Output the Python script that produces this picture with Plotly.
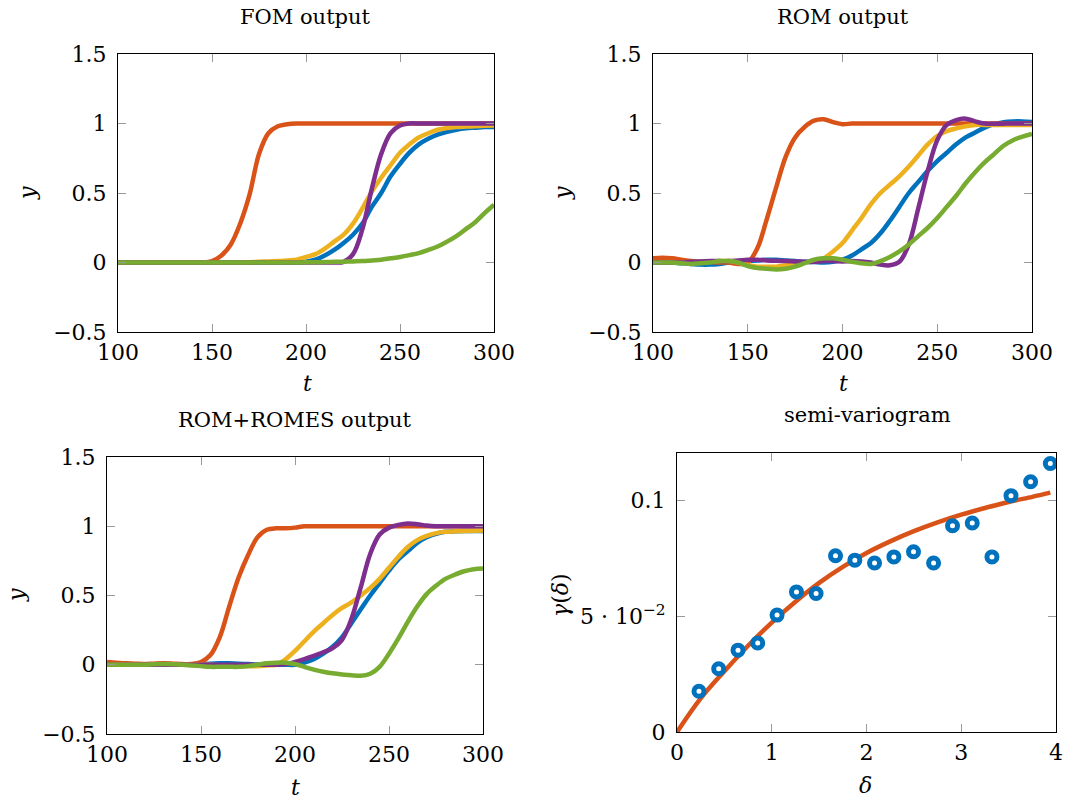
import plotly.graph_objects as go

W, H = 1076, 800

# ---------------- data ----------------
t = list(range(100, 305, 5))  # 100..300 step 5 (41 points)

# FOM output
fom_blue = [0,0,0,0,0,0,0,0,0,0,0,0,0,0,0,0,0,0,0,0,
            0.005,0.02,0.05,0.09,0.14,0.2,0.28,0.4,0.5,0.62,0.71,0.79,0.85,0.89,0.92,0.94,0.955,0.965,0.97,0.975,0.975]
fom_orange = [0,0,0,0,0,0,0,0,0,0,0.01,0.05,0.13,0.28,0.49,0.78,0.93,0.98,0.995,1.0,
              1,1,1,1,1,1,1,1,1,1,1,1,1,1,1,1,1,1,1,1,1]
fom_yellow = [0,0,0,0,0,0,0,0,0,0,0,0,0,0,0.002,0.005,0.008,0.01,0.015,0.02,
              0.04,0.06,0.1,0.15,0.2,0.28,0.39,0.51,0.61,0.7,0.79,0.85,0.9,0.93,0.955,0.968,0.975,0.978,0.98,0.983,0.985]
fom_purple = [0,0,0,0,0,0,0,0,0,0,0,0,0,0,0,0,0,0,0,0,
              0,0,0,0.0,0.005,0.06,0.24,0.53,0.78,0.93,0.985,1.0,1.0,1.0,1.0,1.0,1.0,1.0,1.0,1.0,1.0]
fom_green = [0,0,0,0,0,0,0,0,0,0,0,0,0,0,0,0,0,0,0,0,
             0.001,0.002,0.003,0.005,0.006,0.008,0.01,0.015,0.02,0.03,0.04,0.053,0.068,0.09,0.115,0.15,0.19,0.24,0.29,0.355,0.415]

# ROM output
rom_blue = [0.0,0.0,0.0,-0.005,-0.01,-0.015,-0.015,-0.01,0.0,0.005,0.01,0.015,0.02,0.02,0.015,0.01,0.005,0.003,0.0,0.005,
            0.02,0.05,0.095,0.14,0.21,0.3,0.4,0.5,0.58,0.66,0.73,0.79,0.85,0.9,0.935,0.97,0.995,1.01,1.015,1.015,1.01]
rom_orange = [0.03,0.035,0.03,0.02,0.01,0.005,0.005,0.0,0.0,-0.01,0.0,0.1,0.31,0.54,0.76,0.9,0.975,1.02,1.03,1.01,
              0.995,1.0,1.0,1,1,1,1,1,1,1,1,1,1,1,1,1,1,1,1,1,1]
rom_yellow = [0.0,0.0,0.0,0.0,0.0,0.0,0.005,0.01,0.01,0.0,-0.02,-0.03,-0.03,-0.03,-0.02,-0.01,0.0,0.01,0.03,0.08,
              0.14,0.23,0.32,0.42,0.5,0.56,0.62,0.69,0.77,0.85,0.91,0.945,0.965,0.98,0.99,0.99,0.99,0.99,0.99,0.99,0.99]
rom_purple = [0.0,0.0,0.0,0.0,0.005,0.008,0.01,0.01,0.01,0.015,0.02,0.02,0.015,0.012,0.01,0.008,0.005,0.005,0.01,0.01,
              0.008,0.01,0.008,0.0,-0.015,-0.02,0.005,0.13,0.39,0.66,0.88,0.99,1.025,1.035,1.015,1.0,0.998,0.999,1.0,1.0,1.0]
rom_green = [0.0,0.0,0.0,-0.005,-0.01,-0.005,0.0,0.01,0.01,0.0,-0.025,-0.04,-0.045,-0.05,-0.045,-0.03,-0.005,0.02,0.03,0.03,
             0.02,0.005,-0.005,-0.01,0.01,0.04,0.08,0.13,0.19,0.25,0.32,0.4,0.48,0.57,0.65,0.72,0.78,0.84,0.88,0.905,0.925]

# ROM+ROMES output
romes_blue = [0.0,0.0,0.0,0.0,0.0,0.0,0.0,0.0,0.0,0.0,0.005,0.008,0.01,0.01,0.008,0.005,0.0,0.0,0.0,0.0,
              0.0,0.015,0.04,0.08,0.13,0.2,0.3,0.4,0.5,0.59,0.68,0.76,0.82,0.88,0.92,0.945,0.96,0.963,0.965,0.965,0.965]
romes_orange = [0.02,0.015,0.01,0.008,0.005,0.008,0.01,0.008,0.005,0.005,0.02,0.07,0.2,0.42,0.63,0.79,0.92,0.975,0.985,0.985,
                0.99,1.0,1.0,1,1,1,1,1,1,1,1,1,1,1,1,1,1,1,1,1,1]
romes_yellow = [0.0,0.0,0.0,0.0,0.0,0.0,0.0,0.0,0.0,0.0,0.0,0.0,-0.005,-0.01,-0.01,-0.01,-0.01,-0.005,0.0,0.04,
                0.1,0.17,0.24,0.3,0.36,0.41,0.45,0.5,0.555,0.62,0.7,0.78,0.85,0.9,0.93,0.95,0.96,0.963,0.965,0.968,0.97]
romes_purple = [0.0,0.0,0.0,0.0,0.0,0.0,0.0,0.0,0.0,0.0,0.0,0.0,0.0,0.0,0.0,0.0,0.0,0.0,0.0,0.005,
                0.02,0.04,0.065,0.09,0.12,0.18,0.33,0.56,0.8,0.94,0.99,1.01,1.02,1.015,1.005,1.0,1.0,1.0,1.0,1.0,1.0]
romes_green = [0.0,0.0,0.0,0.0,0.0,0.003,0.005,0.003,0.0,-0.005,-0.01,-0.015,-0.015,-0.015,-0.015,-0.01,0.0,0.01,0.015,0.015,
               0.005,-0.015,-0.035,-0.05,-0.062,-0.07,-0.075,-0.08,-0.065,-0.015,0.08,0.19,0.31,0.42,0.51,0.57,0.62,0.65,0.675,0.69,0.695]

# semi-variogram
delta_pts = [0.232,0.44,0.644,0.852,1.056,1.261,1.468,1.673,1.877,2.085,2.289,2.496,2.708,2.908,3.116,3.324,3.525,3.732,3.94]
gamma_pts = [0.0176,0.0273,0.0353,0.0384,0.0504,0.0604,0.0597,0.0760,0.0741,0.0729,0.0755,0.0777,0.0729,0.0889,0.0901,0.0755,0.1019,0.1079,0.1158]
delta_fit = [0.0,0.25,0.5,0.75,1.0,1.25,1.5,1.75,2.0,2.25,2.5,2.75,3.0,3.25,3.5,3.75,3.94]
gamma_fit = [0.0,0.0145,0.0262,0.0372,0.0472,0.0562,0.0643,0.0712,0.0772,0.0822,0.0866,0.0904,0.0937,0.0966,0.0992,0.1014,0.1032]

x_ticks = [100, 150, 200, 250, 300]
y_ticks = [-0.5, 0, 0.5, 1, 1.5]
d_ticks = [0, 1, 2, 3, 4]
g_tickvals = [0, 0.05, 0.1]
g_ticktext = ["0", "5 · 10<sup>−2</sup>", "0.1"]

# ---------------- style ----------------
BLUE = "#0072BD"
ORANGE = "#D95319"
YELLOW = "#EDB120"
PURPLE = "#7E2F8E"
GREEN = "#77AC30"
FONT = "DejaVu Serif"
FS_TICK = 22
FS_TITLE = 21
LW = 4.5

fig = go.Figure()

panels = [
    (1, [fom_blue, fom_orange, fom_yellow, fom_purple, fom_green]),
    (2, [rom_blue, rom_orange, rom_yellow, rom_purple, rom_green]),
    (3, [romes_blue, romes_orange, romes_yellow, romes_purple, romes_green]),
]
colors = [BLUE, ORANGE, YELLOW, PURPLE, GREEN]
for idx, series in panels:
    ax = "" if idx == 1 else str(idx)
    for s, c in zip(series, colors):
        fig.add_trace(go.Scatter(x=t, y=s, mode="lines",
                                 line=dict(color=c, width=LW, shape="spline", smoothing=1.0),
                                 xaxis="x" + ax, yaxis="y" + ax, showlegend=False, hoverinfo="skip"))

fig.add_trace(go.Scatter(x=delta_fit, y=gamma_fit, mode="lines",
                         line=dict(color=ORANGE, width=LW, shape="spline"),
                         xaxis="x4", yaxis="y4", showlegend=False))
fig.add_trace(go.Scatter(x=delta_pts, y=gamma_pts, mode="markers",
                         marker=dict(symbol="circle", size=10, color="white",
                                     line=dict(color=BLUE, width=5)),
                         xaxis="x4", yaxis="y4", showlegend=False))

def px_x(p):
    return p / W

def px_y(p):
    return 1 - p / H

common = dict(showline=True, linecolor="black", linewidth=1, mirror="allticks",
              ticks="inside", ticklen=8, tickcolor="#9a9a9a", tickwidth=1,
              showgrid=False, zeroline=False, automargin=False,
              tickfont=dict(family=FONT, size=FS_TICK, color="black"))

boxes = {
    1: (118, 494, 54, 332),
    2: (653, 1032, 54, 332),
    3: (107, 483, 457, 734),
    4: (677, 1056, 453, 732),
}
layout = {}
for idx, (l, r, tp, bt) in boxes.items():
    ax = "" if idx == 1 else str(idx)
    xd = [px_x(l), px_x(r)]
    yd = [px_y(bt), px_y(tp)]
    if idx < 4:
        layout["xaxis" + ax] = dict(domain=xd, range=[100, 300], tickvals=x_ticks,
                                    anchor="y" + ax, ticklabelstandoff=1, **common)
        layout["yaxis" + ax] = dict(domain=yd, range=[-0.5, 1.5], tickvals=y_ticks,
                                    anchor="x" + ax, ticklabelstandoff=6, **common)
    else:
        layout["xaxis4"] = dict(domain=xd, range=[0, 4], tickvals=d_ticks,
                                anchor="y4", ticklabelstandoff=1, **common)
        layout["yaxis4"] = dict(domain=yd, range=[0, 0.1203], tickvals=g_tickvals,
                                ticktext=g_ticktext, anchor="x4", ticklabelstandoff=6, **common)

fig.update_layout(**layout)

annotations = []
def ann(text, x, y, angle=0, size=FS_TITLE):
    annotations.append(dict(text=text, x=px_x(x), y=px_y(y), xref="paper", yref="paper",
                            showarrow=False, textangle=angle, xanchor="center", yanchor="middle",
                            font=dict(family=FONT, size=size, color="black")))

ann("FOM output", 305, 17)
ann("ROM output", 843, 17)
ann("ROM+ROMES output", 295, 420)
ann("semi-variogram", 867, 415)
ann("<i>y</i>", 28, 193, -90, FS_TICK)
ann("<i>y</i>", 563, 193, -90, FS_TICK)
ann("<i>y</i>", 16, 595, -90, FS_TICK)
ann("<i>γ</i>(<i>δ</i>)", 560, 595, -90, FS_TICK)
ann("<i>t</i>", 307, 383, 0, FS_TICK)
ann("<i>t</i>", 843, 383, 0, FS_TICK)
ann("<i>t</i>", 295, 787, 0, FS_TICK)
ann("<i>δ</i>", 865, 785, 0, FS_TICK)

fig.update_layout(template="none", width=W, height=H,
                  margin=dict(l=0, r=0, t=0, b=0, pad=0, autoexpand=False),
                  paper_bgcolor="white", plot_bgcolor="white",
                  annotations=annotations, showlegend=False)

fig.write_html("out.html")
